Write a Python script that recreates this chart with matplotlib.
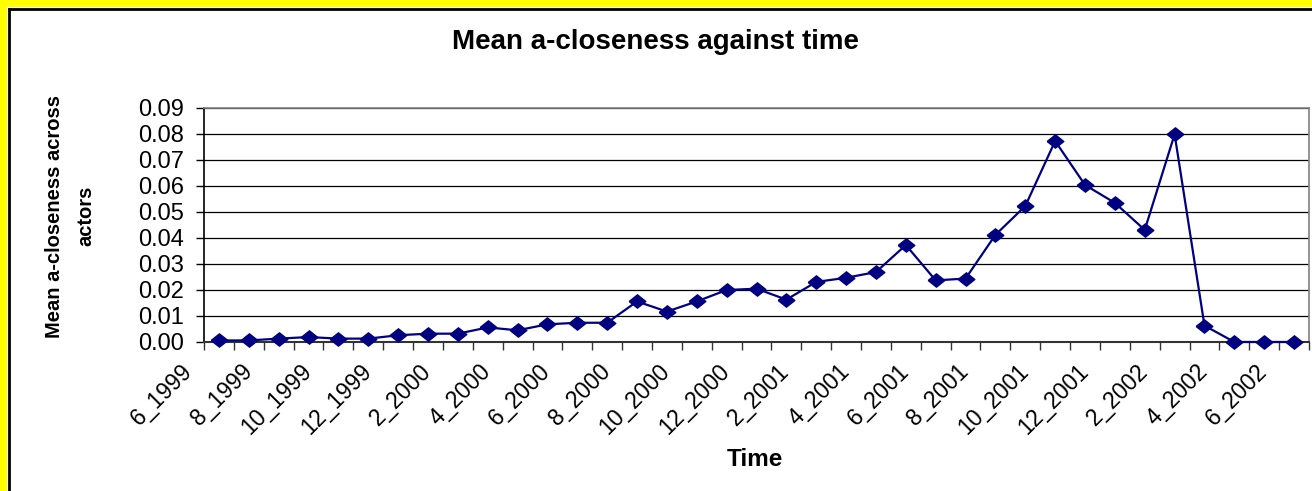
import matplotlib

matplotlib.use("Agg")
import matplotlib.pyplot as plt
import matplotlib.transforms as mtransforms
from matplotlib.patches import Rectangle
from matplotlib.lines import Line2D

plt.rcParams["font.family"] = ["Liberation Sans", "DejaVu Sans"]

# months, 6_1999 .. 6_2002
months = [
    "6_1999", "7_1999", "8_1999", "9_1999", "10_1999", "11_1999", "12_1999",
    "1_2000", "2_2000", "3_2000", "4_2000", "5_2000", "6_2000", "7_2000",
    "8_2000", "9_2000", "10_2000", "11_2000", "12_2000", "1_2001", "2_2001",
    "3_2001", "4_2001", "5_2001", "6_2001", "7_2001", "8_2001", "9_2001",
    "10_2001", "11_2001", "12_2001", "1_2002", "2_2002", "3_2002", "4_2002",
    "5_2002", "6_2002",
]
mean_closeness = [
    0.0006, 0.0006, 0.0013, 0.0019, 0.0013, 0.0013, 0.0026, 0.0032, 0.0032,
    0.0056, 0.0045, 0.0068, 0.0074, 0.0074, 0.0156, 0.0117, 0.0156, 0.0200,
    0.0205, 0.0163, 0.0231, 0.0247, 0.0269, 0.0373, 0.0237, 0.0244, 0.0412,
    0.0523, 0.0773, 0.0604, 0.0535, 0.0431, 0.0799, 0.0063, 0.0, 0.0, 0.0,
]
y_ticks = [0.0, 0.01, 0.02, 0.03, 0.04, 0.05, 0.06, 0.07, 0.08, 0.09]

W, H = 1312, 491
fig = plt.figure(figsize=(W / 100, H / 100), dpi=100)
fig.patch.set_facecolor("white")

# yellow frame on top and left with a dark rule inside it
fig.patches.append(Rectangle((0, 0), 7 / W, 1, transform=fig.transFigure,
                             facecolor="#ffff00", edgecolor="none"))
fig.patches.append(Rectangle((0, 1 - 7 / H), 1, 7 / H, transform=fig.transFigure,
                             facecolor="#ffff00", edgecolor="none"))
fig.lines.append(Line2D([8.5 / W, 8.5 / W], [0, 1 - 8.5 / H], transform=fig.transFigure,
                        color="black", lw=2))
fig.lines.append(Line2D([8.5 / W, 1], [1 - 8.5 / H, 1 - 8.5 / H], transform=fig.transFigure,
                        color="black", lw=2))

ax = fig.add_axes([204 / W, 1 - 342 / H, 1105 / W, 234 / H])
x = list(range(len(months)))
diamond = [(-1, 0), (0, 0.8), (1, 0), (0, -0.8), (-1, 0)]
ax.plot(x, mean_closeness, color="#000080", lw=1.6, marker=diamond,
        markersize=12, markerfacecolor="#000080", markeredgecolor="#000080",
        clip_on=False, zorder=3)

ax.set_xlim(-0.5, len(months) - 0.5)
ax.set_ylim(0, 0.09)
ax.set_yticks(y_ticks)
ax.set_yticklabels([f"{v:.2f}" for v in y_ticks])
ax.yaxis.grid(True, color="black", lw=0.9)
ax.set_axisbelow(True)

# category labels every two months, tick marks between categories
ax.set_xticks(x[::2])
ax.set_xticklabels(months[::2], rotation=45, ha="right", va="top")
ax.set_xticks([i - 0.5 for i in range(len(months) + 1)], minor=True)
ax.tick_params(axis="x", which="major", length=0, pad=13, labelsize=16.5)
ax.tick_params(axis="x", which="minor", length=5.5, width=1, color="#333333")
ax.tick_params(axis="y", length=5.5, width=1, pad=9, labelsize=17)
offset = mtransforms.ScaledTranslation(-0.22, 0, fig.dpi_scale_trans)
for lab in ax.get_xticklabels():
    lab.set_transform(lab.get_transform() + offset)

for side in ("top", "right"):
    ax.spines[side].set_color("#808080")
    ax.spines[side].set_linewidth(1.2)
ax.spines["left"].set_color("black")
ax.spines["left"].set_linewidth(1.2)
ax.spines["bottom"].set_color("#333333")
ax.spines["bottom"].set_linewidth(1.5)

fig.text(0.5, 1 - 42 / H, "Mean a-closeness against time", ha="center", va="center",
         fontsize=20, fontweight="bold")
fig.text(70 / W, 1 - 216 / H, "Mean a-closeness across\nactors", rotation=90,
         ha="center", va="center", multialignment="center", linespacing=1.8,
         fontsize=14.5, fontweight="bold")
fig.text(755 / W, 1 - 460 / H, "Time", ha="center", va="center",
         fontsize=17.5, fontweight="bold")

fig.savefig("out.png", dpi=100)
